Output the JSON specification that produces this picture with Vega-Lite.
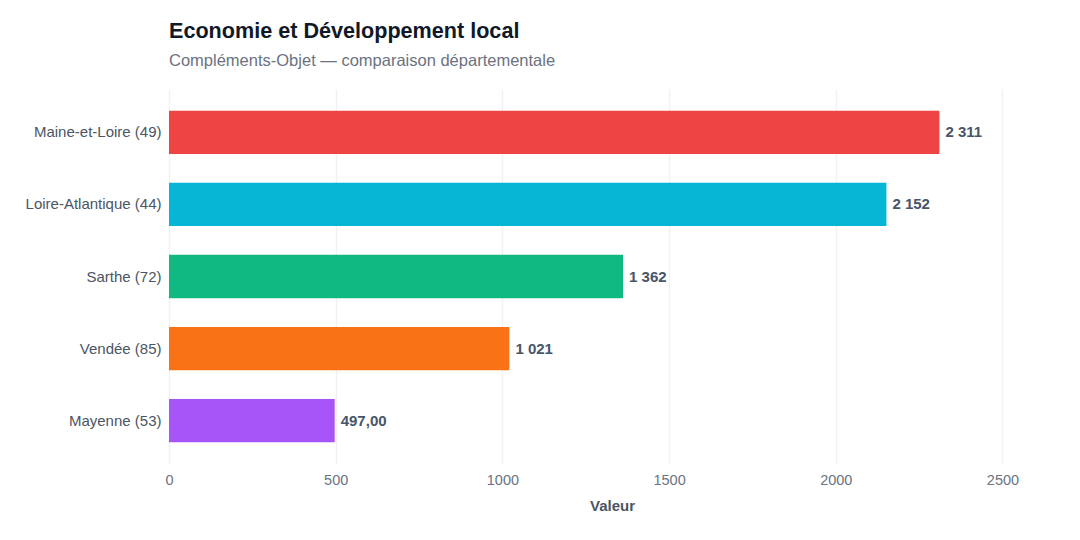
{
  "$schema": "https://vega.github.io/schema/vega-lite/v6.json",
  "autosize": "none",
  "width": 886,
  "height": 375,
  "padding": {"left": 169, "top": 89, "right": 25, "bottom": 76},
  "background": "white",
  "title": {
    "text": "Economie et Développement local",
    "subtitle": "Compléments-Objet — comparaison départementale",
    "anchor": "start",
    "frame": "group",
    "font": "Liberation Sans",
    "fontSize": 21.6,
    "fontWeight": "bold",
    "color": "#111827",
    "subtitleFont": "Liberation Sans",
    "subtitleFontSize": 16.5,
    "subtitleColor": "#6b7280",
    "subtitlePadding": 10,
    "offset": 20
  },
  "config": {
    "view": {"stroke": null},
    "font": "Liberation Sans"
  },
  "data": {
    "values": [
      {"dep": "Maine-et-Loire (49)", "valeur": 2311, "label": "2 311"},
      {"dep": "Loire-Atlantique (44)", "valeur": 2152, "label": "2 152"},
      {"dep": "Sarthe (72)", "valeur": 1362, "label": "1 362"},
      {"dep": "Vendée (85)", "valeur": 1021, "label": "1 021"},
      {"dep": "Mayenne (53)", "valeur": 497, "label": "497,00"}
    ]
  },
  "encoding": {
    "y": {
      "field": "dep",
      "type": "nominal",
      "sort": null,
      "scale": {"paddingInner": 0.4, "paddingOuter": 0.3},
      "axis": {
        "title": null,
        "domain": false,
        "ticks": false,
        "grid": false,
        "labelFontSize": 15,
        "labelColor": "#4b5563",
        "labelPadding": 8
      }
    },
    "x": {
      "field": "valeur",
      "type": "quantitative",
      "scale": {"domain": [0, 2657.65], "nice": false},
      "axis": {
        "title": "Valeur",
        "titleFontSize": 15,
        "titleFontWeight": "bold",
        "titleColor": "#4b5563",
        "titlePadding": 12,
        "domain": false,
        "ticks": false,
        "grid": true,
        "gridColor": "#f1f2f6",
        "gridWidth": 1.5,
        "values": [0, 500, 1000, 1500, 2000, 2500],
        "format": "d",
        "labelFlush": false,
        "labelFontSize": 14.5,
        "labelColor": "#6b7280",
        "labelPadding": 9
      }
    }
  },
  "layer": [
    {
      "mark": {"type": "bar"},
      "encoding": {
        "color": {
          "field": "dep",
          "type": "nominal",
          "legend": null,
          "scale": {
            "domain": ["Maine-et-Loire (49)", "Loire-Atlantique (44)", "Sarthe (72)", "Vendée (85)", "Mayenne (53)"],
            "range": ["#ef4444", "#06b6d4", "#10b981", "#f97316", "#a855f7"]
          }
        }
      }
    },
    {
      "mark": {"type": "text", "align": "left", "baseline": "middle", "dx": 6, "fontSize": 15, "fontWeight": "bold", "color": "#475569"},
      "encoding": {"text": {"field": "label"}}
    }
  ]
}
